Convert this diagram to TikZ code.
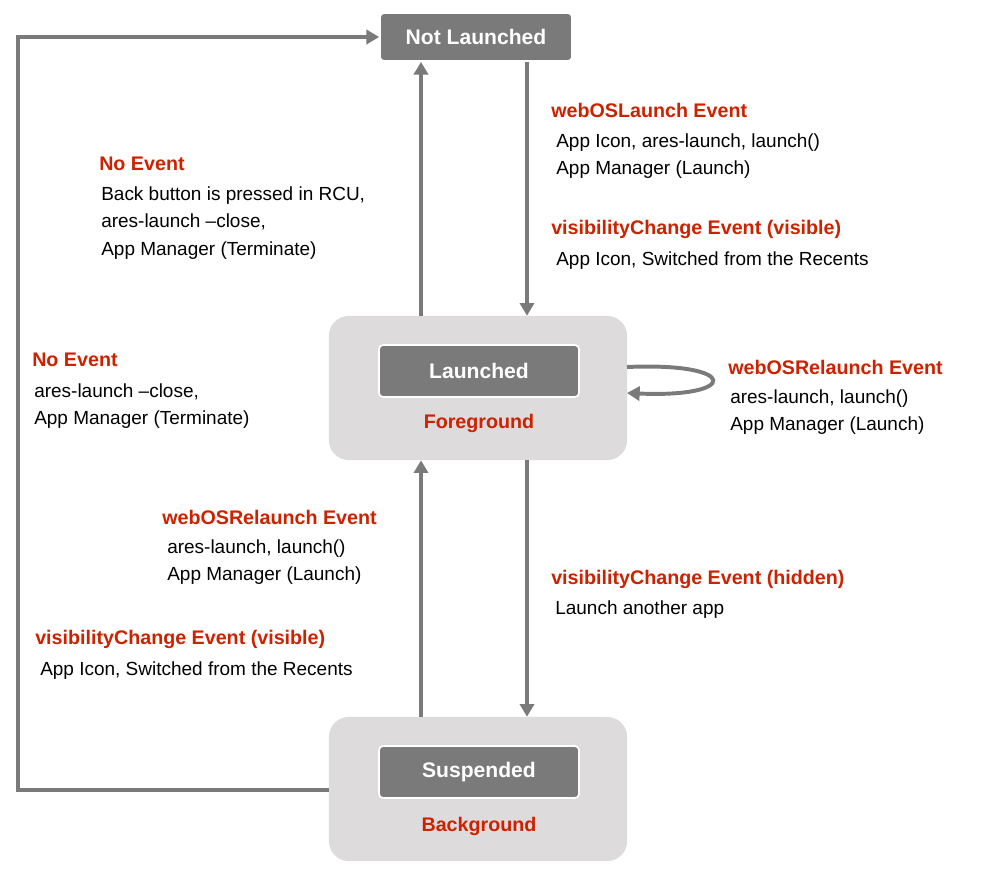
\documentclass[tikz,border=0pt]{standalone}
\usepackage{fontspec}
\setmainfont{Liberation Sans}
\usetikzlibrary{arrows.meta}
\definecolor{stategray}{HTML}{7A7A7A}
\definecolor{panelgray}{HTML}{DDDBDC}
\definecolor{evred}{HTML}{CC2200}
\begin{document}
\begin{tikzpicture}[x=0.025cm,y=-0.025cm,
    state/.style ={draw=white, line width=1.2pt, fill=stategray, rounded corners=3pt,
      text=white, font=\fontsize{15}{18}\selectfont\bfseries, minimum height=1.3cm, minimum width=5cm},
    panel/.style ={fill=panelgray, rounded corners=14pt, minimum width=7.45cm, minimum height=3.6cm},
    flow/.style ={draw=stategray, line width=2.8pt, -{Triangle[length=9pt,width=10pt]}},
    event/.style ={anchor=west, text=evred, font=\fontsize{14}{17}\selectfont\bfseries, inner sep=0pt},
    desc/.style ={anchor=west, align=left, font=\fontsize{13.5}{19.5}\selectfont, inner sep=0pt},
    zone/.style ={text=evred, font=\fontsize{14}{17}\selectfont\bfseries}]
   \useasboundingbox (0,0) rectangle (986,876);
   % states
   \node[state, minimum width=4.8cm, minimum height=1.2cm] (N) at (476,37) {Not Launched};
   \node[panel] (FG) at (478,388) {};
   \node[state] (L) at (479,371) {Launched};
   \node[zone] (FGt) at (479,423) {Foreground};
   \node[panel] (BG) at (478,789) {};
   \node[state] (S) at (479,772) {Suspended};
   \node[zone] (BGt) at (479,826) {Background};
   \coordinate (loopA) at (627,367);
   \coordinate (loopB) at (627,393);
   \coordinate (corner1) at (18,790);
   \coordinate (corner2) at (18,37);

   % connectors
   \draw[flow] (FG.north -| 421,0) to (N.south -| 421,0);
   \draw[flow] (N.south -| 527,0) to (FG.north -| 527,0);
   \draw[flow] (BG.north -| 421,0) to (FG.south -| 421,0);
   \draw[flow] (FG.south -| 527,0) to (BG.north -| 527,0);
   \draw[flow] (BG.west |- corner1) -- (corner1) -- (corner2) -- (N.west);
   \draw[flow] (loopA) .. controls (740,362) and (740,398) .. (loopB);

   % labels
   \node[event] (e1) at (99,164) {No Event};
   \node[desc] (d1) at (101,223) {Back button is pressed in RCU,\\ares-launch --close,\\App Manager (Terminate)};
   \node[event] (e2) at (551,110) {webOSLaunch Event};
   \node[desc] (d2) at (556,156) {App Icon, ares-launch, launch()\\App Manager (Launch)};
   \node[event] (e3) at (551,229) {visibilityChange Event (visible)};
   \node[desc] (d3) at (556,261) {App Icon, Switched from the Recents};
   \node[event] (e4) at (32,360) {No Event};
   \node[desc] (d4) at (34,406) {ares-launch --close,\\App Manager (Terminate)};
   \node[event] (e5) at (728,367) {webOSRelaunch Event};
   \node[desc] (d5) at (730,412) {ares-launch, launch()\\App Manager (Launch)};
   \node[event] (e6) at (162,517) {webOSRelaunch Event};
   \node[desc] (d6) at (167,562) {ares-launch, launch()\\App Manager (Launch)};
   \node[event] (e7) at (551,579) {visibilityChange Event (hidden)};
   \node[desc] (d7) at (555,610) {Launch another app};
   \node[event] (e8) at (35,639) {visibilityChange Event (visible)};
   \node[desc] (d8) at (40,671) {App Icon, Switched from the Recents};
 \end{tikzpicture}
\end{document}
